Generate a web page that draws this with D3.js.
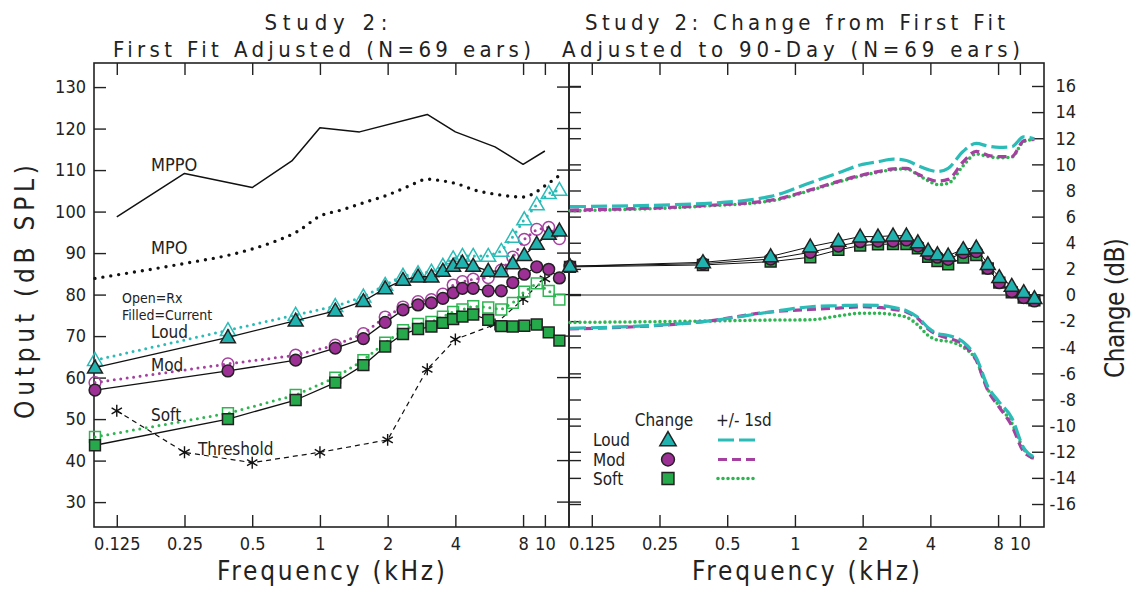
<!DOCTYPE html>
<html>
<head>
<meta charset="utf-8">
<script src="https://cdn.jsdelivr.net/npm/d3@7"></script>
<style>
  body { margin: 0; background: #fff; }
  svg { display: block; }
  text { font-family: "Liberation Sans Narrow", "DejaVu Sans Condensed", "Liberation Sans", Arial, sans-serif; fill: #222; }
</style>
</head>
<body>
<script>

// ---- data ----
const freqs = [0.1, 0.39, 0.78, 1.17, 1.56, 1.95, 2.34, 2.73, 3.13, 3.52, 3.91, 4.3, 4.8, 5.6, 6.4, 7.2, 8.1, 9.2, 10.4, 11.6];

// left panel: output dB SPL, Rx (open) vs current (filled)
const loudRx  = [64.2, 71.4, 75.1, 77.2, 79.5, 82.3, 84.5, 85.1, 85.5, 86.9, 88.7, 89.3, 89.3, 89.3, 90.5, 93.9, 98.1, 101.7, 104.4, 105.2];
const loudCur = [62.4, 69.7, 73.7, 76.1, 78.4, 81.5, 83.5, 84.3, 84.3, 85.7, 86.9, 87.7, 86.9, 85.7, 85.6, 87.5, 89.5, 92.2, 94.6, 95.4];
const modRx   = [58.8, 63.3, 65.4, 67.8, 70.6, 74.6, 77.0, 78.3, 78.8, 80.1, 82.3, 83.1, 83.7, 84.1, 85.9, 89.0, 93.3, 95.7, 96.2, 93.5];
const modCur  = [57.0, 61.6, 64.2, 67.1, 69.4, 73.3, 76.3, 77.5, 78.0, 79.1, 80.4, 81.5, 81.5, 80.9, 80.9, 82.9, 84.9, 86.7, 86.1, 84.0];
const softRx  = [45.7, 51.4, 55.8, 60.0, 64.2, 68.4, 71.4, 72.9, 73.4, 74.7, 75.8, 76.4, 77.2, 76.9, 76.4, 78.0, 80.7, 82.7, 80.9, 78.8];
const softCur = [43.7, 50.0, 54.6, 58.8, 63.0, 67.5, 70.5, 71.7, 72.3, 73.2, 74.1, 74.7, 75.2, 73.9, 72.4, 72.3, 72.5, 72.8, 70.9, 68.9];

const threshFreqs = [0.125, 0.25, 0.5, 1, 2, 3, 4, 6, 8, 10];
const threshVals  = [52, 42, 39.5, 42, 45, 62, 69.2, 72.8, 78.9, 83.8];

const mppoFreqs = [0.125, 0.25, 0.5, 0.75, 1, 1.5, 3, 4, 6, 8, 10];
const mppoVals  = [98.7, 109.2, 105.8, 112.2, 120.2, 119.2, 123.4, 119.2, 115.6, 111.4, 114.6];

const mpoFreqs = [0.1, 0.25, 0.4, 0.5, 0.63, 0.8, 1, 1.25, 1.6, 2, 2.5, 3, 3.5, 4, 5, 6, 7, 8, 9, 10, 11.4];
const mpoVals  = [83.9, 87.5, 89.6, 91, 92.8, 95.3, 98.9, 100.4, 102.3, 104.0, 106.2, 107.8, 107.4, 106.8, 105.0, 104.2, 103.7, 103.5, 104.5, 106.2, 108.4];

// right panel: change in dB, 90-day minus first fit
const chgLoud = [2.2, 2.5, 2.95, 3.7, 4.13, 4.47, 4.47, 4.54, 4.54, 4.03, 3.39, 3.11, 3.01, 3.5, 3.62, 2.35, 1.36, 0.69, 0.21, -0.25];
const chgMod  = [2.2, 2.4, 2.75, 3.27, 3.75, 4.08, 4.13, 4.13, 4.21, 3.75, 3.14, 2.89, 2.73, 3.24, 3.32, 2.04, 0.94, 0.25, -0.2, -0.46];
const chgSoft = [2.15, 2.3, 2.55, 2.89, 3.45, 3.78, 3.88, 3.9, 3.9, 3.57, 2.93, 2.6, 2.35, 2.86, 3.06, 2.04, 0.95, 0.2, -0.2, -0.4];

const sdLoudHi = [6.76, 7.0, 7.55, 8.6, 9.35, 9.95, 10.2, 10.4, 10.3, 9.9, 9.6, 9.45, 9.7, 11.0, 11.6, 11.4, 11.3, 11.35, 12.1, 11.95];
const sdModHi  = [6.5, 6.84, 7.25, 8.05, 8.7, 9.15, 9.45, 9.65, 9.7, 9.25, 8.9, 8.72, 8.85, 10.2, 11.0, 10.7, 10.6, 10.6, 11.8, 11.92];
const sdSoftHi = [6.45, 6.8, 7.2, 8.0, 8.65, 9.1, 9.4, 9.6, 9.65, 9.2, 8.75, 8.45, 8.55, 9.9, 10.8, 10.6, 10.5, 10.55, 11.75, 11.9];
const sdLoudLo = [-2.55, -2.04, -1.3, -0.9, -0.82, -0.77, -0.8, -0.95, -1.2, -1.7, -2.5, -2.95, -3.1, -3.6, -4.8, -7.0, -8.2, -9.4, -11.7, -12.4];
const sdModLo  = [-2.6, -2.04, -1.3, -1.1, -1.0, -0.9, -0.95, -1.1, -1.3, -1.8, -2.6, -3.05, -3.3, -3.8, -5.0, -7.3, -8.6, -10.0, -12.0, -12.5];
const sdSoftLo = [-2.1, -2.0, -1.92, -1.9, -1.6, -1.4, -1.4, -1.5, -1.7, -2.3, -3.1, -3.45, -3.55, -4.0, -5.0, -7.2, -8.5, -9.8, -11.8, -12.6];

const xTicks = [0.125, 0.25, 0.5, 1, 2, 4, 8, 10];
const yTicksL = d3.range(30, 131, 10);
const yTicksR = d3.range(-16, 17, 2);

// ---- layout ----
const width = 1133, height = 590;
const yTop = 63, yBot = 527;
const lx0 = 94, lx1 = 569, rx0 = 569, rx1 = 1044;

const TEAL = "#20b2ae", MAG = "#9c3094", GRN = "#25a94b";
const TEAL_L = "#2bbcb8", MAG_L = "#a640a0", GRN_L = "#2fb552";
const EDGE = "#222";

const svg = d3.select("body").append("svg")
    .attr("width", width)
    .attr("height", height);

const xL = d3.scaleLog().domain([0.099, 12.8]).range([lx0, lx1]);
const xR = d3.scaleLog().domain([0.099, 12.8]).range([rx0, rx1]);
const yL = d3.scaleLinear().domain([24, 135.8]).range([yBot, yTop]);
const yR = d3.scaleLinear().domain([-17.76, 17.76]).range([yBot, yTop]);

const fmtF = d => String(d);

function styleAxis(g) {
  g.select(".domain").remove();
  g.selectAll("line").attr("stroke", EDGE).attr("stroke-width", 1.4);
  g.selectAll("text").attr("fill", "#222").style("font-size", "18px");
}

// x axes (bottom labels, top ticks only)
[xL, xR].forEach(x => {
  svg.append("g")
    .attr("transform", `translate(0,${yBot})`)
    .call(d3.axisBottom(x).tickValues(xTicks).tickFormat(fmtF).tickSizeInner(-12).tickSizeOuter(0).tickPadding(10))
    .call(styleAxis);
  svg.append("g")
    .attr("transform", `translate(0,${yTop})`)
    .call(d3.axisTop(x).tickValues(xTicks).tickFormat("").tickSizeInner(-12).tickSizeOuter(0))
    .call(styleAxis);
});

// left y axis
svg.append("g")
  .attr("transform", `translate(${lx0},0)`)
  .call(d3.axisLeft(yL).tickValues(yTicksL).tickSizeInner(-12).tickSizeOuter(0).tickPadding(8))
  .call(styleAxis);

// shared border: left-panel ticks both sides, right-panel ticks pointing right
svg.append("g").selectAll("line")
  .data(yTicksL)
  .join("line")
    .attr("x1", lx1 - 12).attr("x2", lx1 + 12)
    .attr("y1", d => yL(d)).attr("y2", d => yL(d))
    .attr("stroke", EDGE).attr("stroke-width", 1.4);
svg.append("g")
  .attr("transform", `translate(${rx0},0)`)
  .call(d3.axisLeft(yR).tickValues(yTicksR).tickFormat("").tickSizeInner(-12).tickSizeOuter(0))
  .call(styleAxis);

// right y axis
svg.append("g")
  .attr("transform", `translate(${rx1},0)`)
  .call(d3.axisRight(yR).tickValues(yTicksR).tickFormat(d => String(d)).tickSizeInner(-12).tickSizeOuter(0).tickPadding(32))
  .call(styleAxis)
  .call(g => g.selectAll("text").attr("text-anchor", "end"));

// frames
[[lx0, lx1], [rx0, rx1]].forEach(([a, b]) => {
  svg.append("rect")
    .attr("x", a).attr("y", yTop)
    .attr("width", b - a).attr("height", yBot - yTop)
    .attr("fill", "none").attr("stroke", EDGE).attr("stroke-width", 1.6);
});

// zero line in right panel
svg.append("line")
  .attr("x1", rx0).attr("x2", rx1)
  .attr("y1", yR(0)).attr("y2", yR(0))
  .attr("stroke", EDGE).attr("stroke-width", 1.2);

// ---- helpers ----
function pairs(fs, vs) { return fs.map((f, i) => [f, vs[i]]); }

function drawLine(x, y, data, opts) {
  const line = d3.line().x(d => x(d[0])).y(d => y(d[1]));
  if (opts.curve) line.curve(opts.curve);
  svg.append("path")
    .attr("d", line(data))
    .attr("fill", "none")
    .attr("stroke", opts.stroke)
    .attr("stroke-width", opts.width || 1.3)
    .attr("stroke-dasharray", opts.dash || null)
    .attr("stroke-linecap", opts.cap || "butt")
    .attr("stroke-linejoin", "round");
}

const shapes = { tri: d3.symbolTriangle, circ: d3.symbolCircle, sq: d3.symbolSquare };
const sizes  = { tri: 96, circ: 108, sq: 118 };

function drawMarks(x, y, data, kind, fill, stroke, dy) {
  const sym = d3.symbol(shapes[kind], sizes[kind]);
  svg.append("g").selectAll("path")
    .data(data)
    .join("path")
      .attr("d", sym)
      .attr("transform", d => `translate(${x(d[0])},${y(d[1]) + (dy || 0)})`)
      .attr("fill", fill)
      .attr("stroke", stroke)
      .attr("stroke-width", 1.5);
}

// ---- left panel ----
drawLine(xL, yL, pairs(mppoFreqs, mppoVals), { stroke: "#111", width: 1.5 });
drawLine(xL, yL, pairs(mpoFreqs, mpoVals), { stroke: "#111", width: 3.4, dash: "0 8", cap: "round", curve: d3.curveMonotoneX });
drawLine(xL, yL, pairs(threshFreqs, threshVals), { stroke: "#111", width: 1.2, dash: "5 4" });
svg.append("g").selectAll("path")
  .data(pairs(threshFreqs, threshVals))
  .join("path")
    .attr("d", d3.symbol(d3.symbolAsterisk, 100))
    .attr("transform", d => `translate(${xL(d[0])},${yL(d[1])})`)
    .attr("fill", "none").attr("stroke", "#111").attr("stroke-width", 1.4);

const leftSeries = [
  { rx: softRx, cur: softCur, kind: "sq",   col: GRN,  light: GRN_L },
  { rx: modRx,  cur: modCur,  kind: "circ", col: MAG,  light: MAG_L },
  { rx: loudRx, cur: loudCur, kind: "tri",  col: TEAL, light: TEAL_L }
];
leftSeries.forEach(s => {
  drawLine(xL, yL, pairs(freqs, s.rx), { stroke: s.light, width: 3, dash: "0 6.5", cap: "round" });
  drawMarks(xL, yL, pairs(freqs, s.rx), s.kind, "none", s.light, s.kind === "tri" ? 1 : 0);
});
leftSeries.forEach(s => {
  drawLine(xL, yL, pairs(freqs, s.cur), { stroke: "#111", width: 1.3 });
  drawMarks(xL, yL, pairs(freqs, s.cur), s.kind, s.col, EDGE, s.kind === "tri" ? 1 : 0);
});

// left panel annotations
const notes = [
  ["MPPO", 151, 171, 18], ["MPO", 151, 254, 18],
  ["Open=Rx", 122, 303, 14], ["Filled=Current", 122, 320, 14],
  ["Loud", 151, 338, 17], ["Mod", 151, 371, 17], ["Soft", 151, 421, 17],
  ["Threshold", 198, 455, 17]
];
svg.append("g").selectAll("text")
  .data(notes)
  .join("text")
    .attr("x", d => d[1]).attr("y", d => d[2])
    .style("font-size", d => d[3] + "px")
    .text(d => d[0]);

// ---- right panel ----
const rightSeries = [
  { chg: chgSoft, hi: sdSoftHi, lo: sdSoftLo, kind: "sq",   col: GRN,  light: GRN_L,  dash: "0 5",  cap: "round", w: 3.6 },
  { chg: chgMod,  hi: sdModHi,  lo: sdModLo,  kind: "circ", col: MAG,  light: MAG_L,  dash: "9 5",  cap: "butt",  w: 3.2 },
  { chg: chgLoud, hi: sdLoudHi, lo: sdLoudLo, kind: "tri",  col: TEAL, light: TEAL_L, dash: "16 5", cap: "butt",  w: 3.2 }
];
rightSeries.forEach(s => {
  [s.hi, s.lo].forEach(arr =>
    drawLine(xR, yR, pairs(freqs, arr), { stroke: s.light, width: s.w, dash: s.dash, cap: s.cap, curve: d3.curveMonotoneX }));
});
rightSeries.forEach(s => drawLine(xR, yR, pairs(freqs, s.chg), { stroke: "#111", width: 1 }));
rightSeries.forEach(s => drawMarks(xR, yR, pairs(freqs, s.chg), s.kind, s.col, EDGE, s.kind === "tri" ? 1 : 0));

// legend
const lg = svg.append("g");
lg.append("text").attr("x", 664).attr("y", 426).attr("text-anchor", "middle").style("font-size", "17px").text("Change");
lg.append("text").attr("x", 716).attr("y", 426).style("font-size", "17px").text("+/- 1sd");
const legRows = [
  { label: "Loud", y: 440, s: rightSeries[2] },
  { label: "Mod",  y: 459.5, s: rightSeries[1] },
  { label: "Soft", y: 478.5, s: rightSeries[0] }
];
legRows.forEach(r => {
  lg.append("text").attr("x", 593).attr("y", r.y + 6).style("font-size", "17px").text(r.label);
  lg.append("path")
    .attr("d", d3.symbol(shapes[r.s.kind], sizes[r.s.kind] * 1.2)())
    .attr("transform", `translate(668,${r.y + (r.s.kind === "tri" ? 1 : 0)})`)
    .attr("fill", r.s.col).attr("stroke", EDGE).attr("stroke-width", 1.5);
  lg.append("line")
    .attr("x1", 718).attr("x2", 757).attr("y1", r.y).attr("y2", r.y)
    .attr("stroke", r.s.light).attr("stroke-width", r.s.w)
    .attr("stroke-dasharray", r.s.dash).attr("stroke-linecap", r.s.cap);
});

// ---- titles and axis labels ----
function label(x, y, txt, size, len, rot) {
  const t = svg.append("text")
    .attr("text-anchor", "middle")
    .style("font-size", size + "px")
    .attr("textLength", len)
    .attr("lengthAdjust", "spacing")
    .text(txt);
  if (rot) t.attr("transform", `translate(${x},${y}) rotate(${rot})`);
  else t.attr("x", x).attr("y", y);
}
label(326, 30, "Study 2:", 22, 123);
label(322, 57, "First Fit Adjusted (N=69 ears)", 22, 418);
label(795, 30, "Study 2: Change from First Fit", 22, 420);
label(791, 57, "Adjusted to 90-Day (N=69 ears)", 22, 458);
label(331, 580, "Frequency (kHz)", 26, 228);
label(806, 580, "Frequency (kHz)", 26, 228);
label(34, 292, "Output (dB SPL)", 26, 254, -90);
label(1124, 308, "Change (dB)", 26, 140, -90);

</script>
</body>
</html>
